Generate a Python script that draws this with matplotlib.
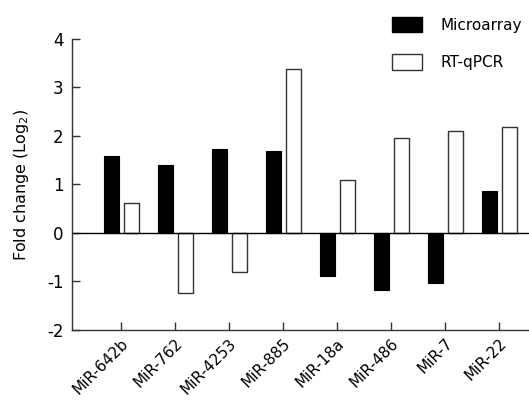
import numpy as np
import matplotlib.pyplot as plt
from matplotlib.patches import Patch

mirnas = ["MiR-642b", "MiR-762", "MiR-4253", "MiR-885",
          "MiR-18a", "MiR-486", "MiR-7", "MiR-22"]
microarray = [1.59, 1.39, 1.73, 1.68, -0.88, -1.17, -1.03, 0.87]
rt_qpcr = [0.62, -1.24, -0.80, 3.37, 1.09, 1.96, 2.09, 2.18]

plt.rcParams['font.family'] = ['DejaVu Sans']
plt.rcParams['axes.unicode_minus'] = False

fig = plt.figure(figsize=(5.29, 4.03), dpi=100)
ax = fig.add_axes([0.136, 0.181, 0.864, 0.723])

x = np.arange(len(mirnas))
w = 0.28
ax.bar(x - 0.17, microarray, w, color='black', edgecolor='black', linewidth=0.8)
ax.bar(x + 0.2, rt_qpcr, w, color='white', edgecolor='#333333', linewidth=1.0)

ax.axhline(0, color='black', linewidth=1.0)

ax.set_xlim(-0.91, 7.56)
ax.set_ylim(-2, 4)
ax.set_yticks([-2, -1, 0, 1, 2, 3, 4])
ax.set_xticks(x)
ax.set_xticklabels(mirnas, rotation=45, ha='right', rotation_mode='anchor', fontsize=11)
ax.tick_params(axis='both', direction='in', length=6, width=1, colors='#333333', labelcolor='black')
ax.tick_params(axis='y', labelsize=12, pad=6)
ax.tick_params(axis='x', pad=4)

for s in ['top', 'right']:
    ax.spines[s].set_visible(False)
for s in ['left', 'bottom']:
    ax.spines[s].set_color('#333333')
    ax.spines[s].set_linewidth(1.0)

ax.set_ylabel("Fold change (Log$_2$)", fontsize=11.5)
ax.yaxis.set_label_coords(-0.09, 0.5)

handles = [Patch(facecolor='black', edgecolor='black', label='Microarray'),
           Patch(facecolor='white', edgecolor='#333333', label='RT-qPCR')]
fig.legend(handles=handles, loc='upper left', bbox_to_anchor=(0.72, 0.985),
           frameon=False, fontsize=11, handlelength=2.0, handleheight=1.2,
           labelspacing=1.4, handletextpad=1.2, borderaxespad=0.3)

fig.savefig("out.png", dpi=100)
